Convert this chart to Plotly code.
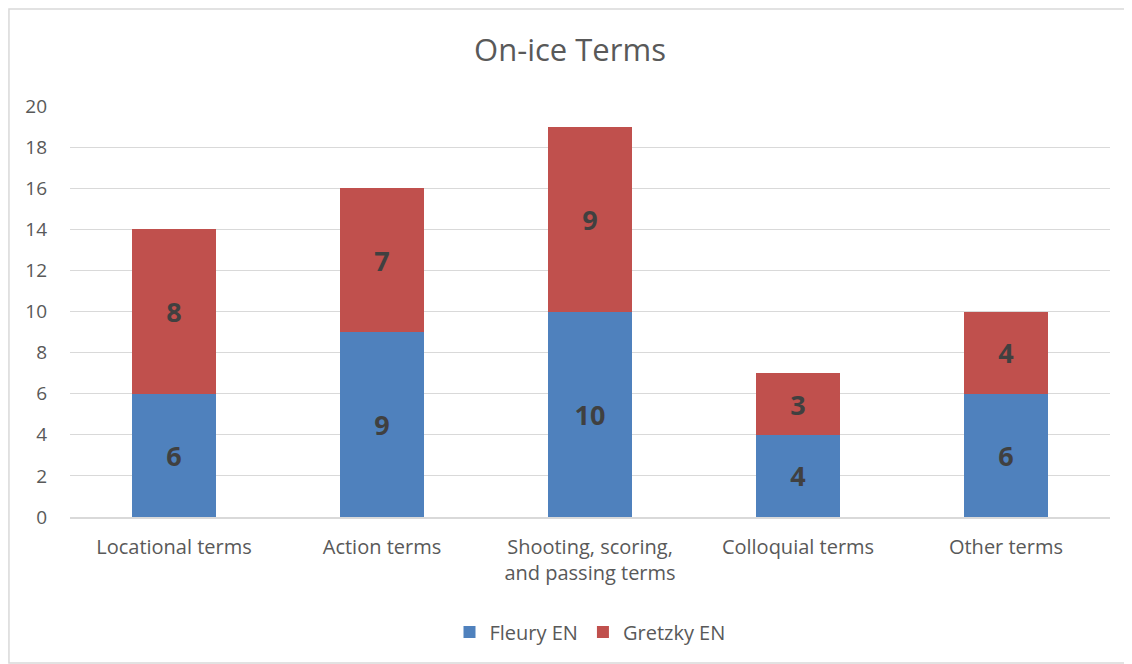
import plotly.graph_objects as go

CATEGORIES = ["Locational terms", "Action terms", "Shooting, scoring,<br>and passing terms",
              "Colloquial terms", "Other terms"]
FLEURY = [6, 9, 10, 4, 6]
GRETZKY = [8, 7, 9, 3, 4]

BLUE = "#4F81BD"
RED = "#C0504D"
TEXT = "#595959"
FONT = "Open Sans, Noto Sans, sans-serif"

fig = go.Figure()
for name, vals, color in [("Fleury EN", FLEURY, BLUE), ("Gretzky EN", GRETZKY, RED)]:
    fig.add_trace(go.Bar(
        name=name,
        x=CATEGORIES,
        y=vals,
        marker=dict(color=color, line=dict(width=0)),
        text=vals,
        textposition="inside",
        insidetextanchor="middle",
        textfont=dict(family=FONT, size=27, color="#404040", weight="bold"),
    ))

# the page body adds an 8px offset, so the figure is 8px smaller than the window
fig.update_layout(
    width=1124,
    height=656,
    barmode="stack",
    bargap=0.6,
    paper_bgcolor="white",
    plot_bgcolor="white",
    font=dict(family=FONT, size=19, color=TEXT),
    margin=dict(l=62, r=22, t=98, b=147),
    title=dict(text="On-ice Terms", x=0.5, xanchor="center", y=0.936, yanchor="middle",
               font=dict(size=31, color=TEXT)),
    legend=dict(orientation="h", x=0.5, xanchor="center", y=-0.28, yanchor="middle",
                font=dict(size=20, color=TEXT), traceorder="normal"),
    uniformtext=dict(mode="show", minsize=10),
    shapes=[dict(type="rect", xref="paper", yref="paper", x0=-0.0587, x1=1.0202,
                 y0=-0.355, y1=1.236, line=dict(color="#D9D9D9", width=1.5))],
)
fig.update_xaxes(showgrid=False, showline=True, linecolor="#D9D9D9", linewidth=1.5,
                 tickfont=dict(size=20, color=TEXT), ticks="", ticklabelstandoff=11)
fig.update_yaxes(range=[0, 20.01], dtick=2, showgrid=True, gridcolor="#D9D9D9", gridwidth=1.2,
                 zeroline=False, tickfont=dict(size=19, color=TEXT), ticks="",
                 ticklabelstandoff=22)

fig.write_html("out.html")
